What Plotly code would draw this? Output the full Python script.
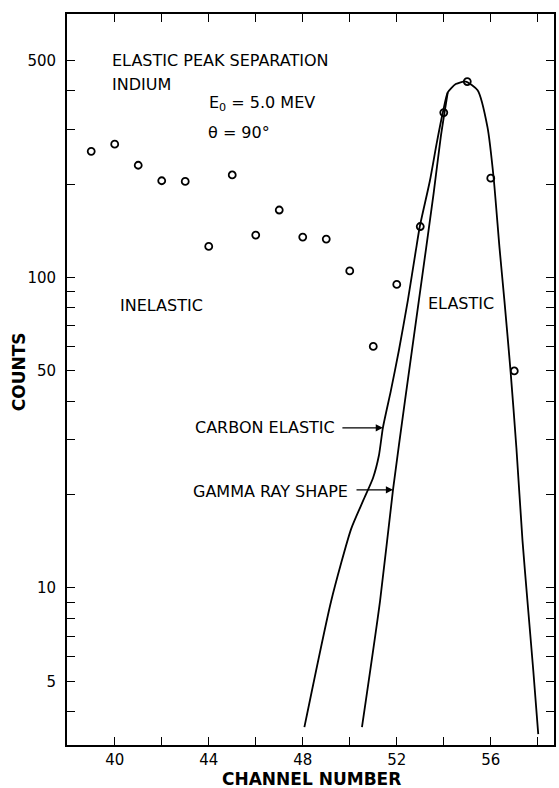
import math
import plotly.graph_objects as go

# Measured counts per channel (open circles)
channels = [39, 40, 41, 42, 43, 44, 45, 46, 47, 48, 49, 50, 51, 52, 53, 54, 55, 56, 57]
counts = [255, 269, 230, 205, 204, 126, 214, 137, 165, 135, 133, 105, 60, 95, 146, 340, 428, 209, 50]

# Drawn curve: carbon elastic + elastic peak
carbon_x = [48.07, 49.21, 50.06, 50.57, 50.99, 51.24, 51.41, 51.75,
            52.09, 52.47, 52.81, 52.98, 53.41, 53.70, 53.96, 54.17, 54.51, 54.93,
            55.44, 55.86, 56.12, 56.37, 56.58, 56.84, 57.09, 57.35, 57.56, 57.81, 58.02]
carbon_y = [3.56, 9.08, 15.5, 19.1, 22.6, 26.7, 32.8, 43.2,
            58.2, 84.3, 122, 146, 205, 271, 340, 395, 420, 428,
            401, 305, 210, 125, 84.3, 50.1, 28.3, 14.2, 9.08, 5.4, 3.38]

# Drawn curve: gamma ray line shape (joins the peak near channel 54)
gamma_x = [50.52, 51.29, 51.84, 52.35, 52.94, 53.57, 53.87, 54.17]
gamma_y = [3.56, 9.08, 20.7, 40.1, 84.3, 187, 283, 395]

x_ticks = [40, 42, 44, 46, 48, 50, 52, 54, 56, 58]
x_labels = ["40", "", "44", "", "48", "", "52", "", "56", ""]
y_ticks = [4, 5, 6, 7, 8, 9, 10, 20, 30, 40, 50, 60, 70, 80, 90, 100, 200, 300, 400, 500]
y_labels = ["", "5", "", "", "", "", "10", "", "", "", "50", "", "", "", "", "100", "", "", "", "500"]

FONT = "DejaVu Sans"
W, H = 559, 788
L, R, T, B = 67, 3, 14, 43
PW, PH = W - L - R, H - T - B


def px(x):
    return (x - L) / PW


def py(y):
    return (H - B - y) / PH


fig = go.Figure()
curve_line = dict(color="black", width=1.8, shape="spline", smoothing=0.6)
fig.add_trace(go.Scatter(x=carbon_x, y=carbon_y, mode="lines", line=curve_line, hoverinfo="skip"))
fig.add_trace(go.Scatter(x=gamma_x, y=gamma_y, mode="lines", line=curve_line, hoverinfo="skip"))
fig.add_trace(go.Scatter(x=channels, y=counts, mode="markers",
                         marker=dict(symbol="circle-open", size=7, color="black",
                                     line=dict(width=1.8, color="black"))))

txt = dict(family=FONT, size=16, color="black")
notes = [
    ("ELASTIC PEAK SEPARATION", 110, 61),
    ("INDIUM", 110, 84),
    ("E<sub>0</sub> = 5.0 MEV", 208, 103),
    ("\u03b8 = 90\u00b0", 207, 133),
    ("INELASTIC", 118, 305),
    ("ELASTIC", 427, 303),
]
for t, x, y in notes:
    fig.add_annotation(text=t, x=px(x), y=py(y), xref="paper", yref="paper",
                       xanchor="left", yanchor="middle", showarrow=False, font=txt)

for t, x, y in [("CARBON ELASTIC", 338, 427), ("GAMMA RAY SHAPE", 351, 491)]:
    fig.add_annotation(text=t, x=px(x), y=py(y), xref="paper", yref="paper",
                       xanchor="right", yanchor="middle", showarrow=False, font=txt)

# arrows pointing at the two curves
fig.add_annotation(x=51.41, y=math.log10(32.8), text="", showarrow=True,
                   ax=-42, ay=0, arrowhead=2, arrowsize=1.1, arrowwidth=1.3, arrowcolor="black")
fig.add_annotation(x=51.84, y=math.log10(20.7), text="", showarrow=True,
                   ax=-38, ay=0, arrowhead=2, arrowsize=1.1, arrowwidth=1.3, arrowcolor="black")

bold = dict(family=FONT, size=17, color="black")
fig.add_annotation(text="<b>COUNTS</b>", x=px(19), y=py(372), xref="paper", yref="paper",
                   textangle=-90, showarrow=False, font=bold, xanchor="center", yanchor="middle")
fig.add_annotation(text="<b>CHANNEL NUMBER</b>", x=px(313), y=py(779), xref="paper", yref="paper",
                   showarrow=False, font=bold, xanchor="center", yanchor="middle")

tickfont = dict(family=FONT, size=15, color="black")
fig.update_xaxes(range=[37.97, 58.69], tickvals=x_ticks, ticktext=x_labels,
                 ticks="inside", ticklen=8, tickwidth=1.2, tickcolor="black",
                 showline=True, linecolor="black", linewidth=1.8, mirror="ticks",
                 showgrid=False, zeroline=False, tickfont=tickfont)
fig.update_yaxes(type="log", range=[0.494, 2.849], tickvals=y_ticks, ticktext=y_labels,
                 ticks="inside", ticklen=8, tickwidth=1.2, tickcolor="black",
                 showline=True, linecolor="black", linewidth=1.8, mirror="ticks",
                 showgrid=False, zeroline=False, tickfont=tickfont, ticklabelstandoff=6)

fig.update_layout(width=W, height=H, margin=dict(l=L, r=R, t=T, b=B),
                  paper_bgcolor="white", plot_bgcolor="white", showlegend=False)

fig.write_html("out.html")
